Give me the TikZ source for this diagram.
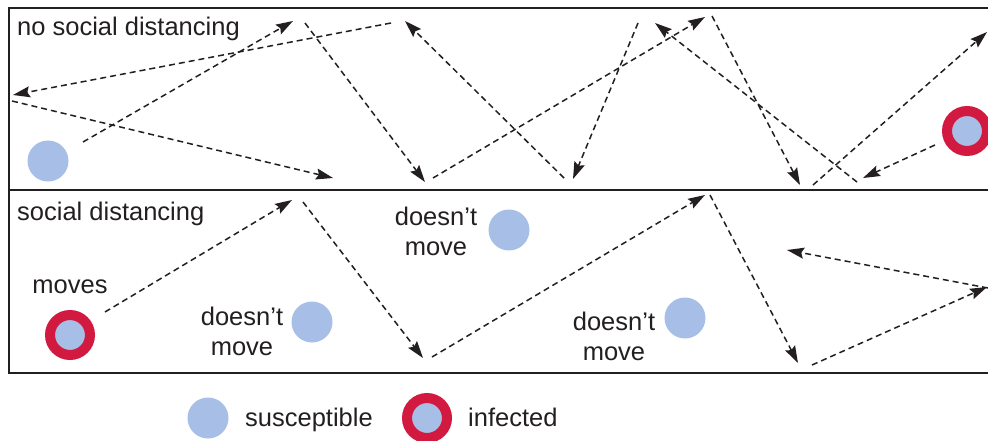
\documentclass[tikz,border=0pt]{standalone}
\usepackage{fontspec}
\setmainfont{Liberation Sans}
\usetikzlibrary{arrows.meta}
\definecolor{ink}{HTML}{231F20}
\definecolor{suscfill}{HTML}{A7BFE6}
\definecolor{infring}{HTML}{D2193F}
\begin{document}
\begin{tikzpicture}[x=1pt,y=-1pt,
  lbl/.style={font=\fontsize{25.5}{30}\selectfont, text=ink, inner sep=0pt},
  trail/.style={draw=ink, line width=1.5pt, dash pattern=on 6pt off 4pt,
    -{Stealth[length=17pt,width=11pt,inset=2.5pt]}},
  frame/.style={draw=ink, line width=2.5pt},
  susc/.style={circle, fill=suscfill, minimum size=41pt, inner sep=0pt},
  inf/.style={circle, fill=suscfill, draw=infring, line width=10pt,
    minimum size=40pt, inner sep=0pt}]
\useasboundingbox (0,0) rectangle (988,441);

% panel frames
\draw[frame] (988,8) -- (9,8) -- (9,373) -- (988,373);
\draw[frame] (9,190) -- (988,190);

% panel titles
\node[lbl, anchor=base west] (t1) at (17,36) {no social distancing};
\node[lbl, anchor=base west] (t2) at (17,220) {social distancing};

% ---- without distancing ----
\node[susc] (s0) at (48,161) {};
\node[inf] (i0) at (967,131) {};

\coordinate (a1s) at (83,142);  \coordinate (a1e) at (293,21);
\coordinate (a2s) at (391,23);  \coordinate (a2e) at (13,95);
\coordinate (a3s) at (12,101);  \coordinate (a3e) at (333,178);
\coordinate (a4s) at (305,23);  \coordinate (a4e) at (425,182);
\coordinate (a5s) at (433,178); \coordinate (a5e) at (705,17);
\coordinate (a6s) at (564,178); \coordinate (a6e) at (405,21);
\coordinate (a7s) at (638,23);  \coordinate (a7e) at (573,179);
\coordinate (a8s) at (857,182); \coordinate (a8e) at (655,23);
\coordinate (a9s) at (712,16);  \coordinate (a9e) at (800,185);
\coordinate (a10s) at (813,185); \coordinate (a10e) at (987,32);
\coordinate (a11s) at (935,145); \coordinate (a11e) at (863,178);

\foreach \k in {1,...,11}
  \draw[trail] (a\k s) -- (a\k e);

% ---- with distancing ----
\node[inf] (i1) at (70,335) {};
\node[lbl, anchor=base] (m1) at (70,293) {moves};

\node[susc] (s1) at (312,322) {};
\node[lbl, anchor=base] (d1a) at (242,325) {doesn’t};
\node[lbl, anchor=base] (d1b) at (242,355) {move};

\node[susc] (s2) at (509,230) {};
\node[lbl, anchor=base] (d2a) at (436,225) {doesn’t};
\node[lbl, anchor=base] (d2b) at (436,255) {move};

\node[susc] (s3) at (685,318) {};
\node[lbl, anchor=base] (d3a) at (614,330) {doesn’t};
\node[lbl, anchor=base] (d3b) at (614,360) {move};

\coordinate (b1s) at (105,312); \coordinate (b1e) at (292,200);
\coordinate (b2s) at (303,202); \coordinate (b2e) at (423,358);
\coordinate (b3s) at (432,357); \coordinate (b3e) at (705,195);
\coordinate (b4s) at (710,195); \coordinate (b4e) at (798,363);
\coordinate (b5s) at (812,365); \coordinate (b5e) at (987,287);
\coordinate (b6s) at (988,288); \coordinate (b6e) at (787,250);

\foreach \k in {1,...,6}
  \draw[trail] (b\k s) -- (b\k e);

% ---- legend ----
\node[susc] (ls) at (208,418) {};
\node[lbl, anchor=base west] (lst) at (245,426) {susceptible};
\node[inf] (li) at (427,418) {};
\node[lbl, anchor=base west] (lit) at (468,426) {infected};
\end{tikzpicture}
\end{document}
